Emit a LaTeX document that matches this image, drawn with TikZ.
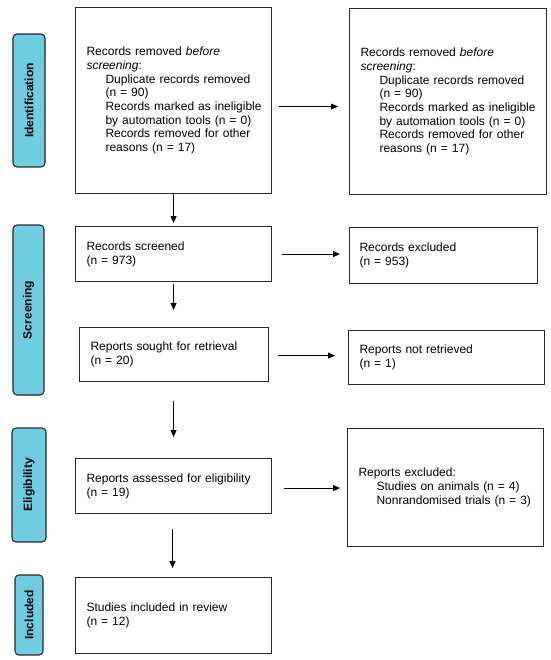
\documentclass[tikz,border=0pt]{standalone}
\usepackage{fontspec}
\setmainfont{Liberation Sans}
\usetikzlibrary{arrows.meta,calc}
\definecolor{phase}{RGB}{110,205,224}
\definecolor{edge}{RGB}{40,40,40}
\begin{document}
\begin{tikzpicture}[x=1pt,y=-1pt,
  box/.style={draw=edge,line width=1.1pt,inner xsep=11pt,inner ysep=0pt,align=left,anchor=north west,
    font=\fontsize{12}{13.7}\selectfont},
  phasebox/.style={draw=edge,line width=1.1pt,fill=phase,rounded corners=4pt,rotate=90,inner sep=0pt,
    font=\fontsize{12}{13}\selectfont\bfseries},
  arr/.style={draw=black,line width=0.8pt,-{Triangle[length=7pt,width=6pt]}}]
\useasboundingbox (0,0) rectangle (550,660);
\newcommand{\ind}[1]{\mbox{\hspace*{19pt}#1}}
% phase labels
\node[phasebox,minimum width=133pt,minimum height=32pt] (L1) at (29,100.5) {Identification};
\node[phasebox,minimum width=170pt,minimum height=31pt] (L2) at (28.5,310) {Screening};
\node[phasebox,minimum width=114pt,minimum height=34pt] (L3) at (29,485) {Eligibility};
\node[phasebox,minimum width=80pt,minimum height=28pt] (L4) at (29,615) {Included};
% boxes
\node[box,text width=174pt,minimum height=186pt] (A) at (75,7) {Records removed \textit{before}\\\textit{screening}:\\\ind{Duplicate records removed}\\\ind{(n = 90)}\\\ind{Records marked as ineligible}\\\ind{by automation tools (n = 0)}\\\ind{Records removed for other}\\\ind{reasons (n = 17)}};
\node[box,text width=175pt,minimum height=186pt] (B) at (349,8) {Records removed \textit{before}\\\textit{screening}:\\\ind{Duplicate records removed}\\\ind{(n = 90)}\\\ind{Records marked as ineligible}\\\ind{by automation tools (n = 0)}\\\ind{Records removed for other}\\\ind{reasons (n = 17)}};
\node[box,minimum height=55pt,text width=174pt] (C) at (75,226) {Records screened\\(n = 973)};
\node[box,minimum height=56pt,inner xsep=10pt,text width=168pt] (D) at (349,227) {Records excluded\\(n = 953)};
\node[box,text width=167pt,minimum height=54pt] (E) at (79,327) {Reports sought for retrieval\\(n = 20)};
\node[box,text width=174pt,minimum height=54pt] (F) at (348,330) {Reports not retrieved\\(n = 1)};
\node[box,text width=174pt,minimum height=55pt] (G) at (75,458) {Reports assessed for eligibility\\(n = 19)};
\node[box,text width=174pt,minimum height=118pt] (H) at (347,428) {Reports excluded:\\\mbox{\hspace*{18pt}Studies on animals (n = 4)}\\\mbox{\hspace*{18pt}Nonrandomised trials (n = 3)}};
\node[box,text width=174pt,minimum height=76pt] (I) at (75,577) {Studies included in review\\(n = 12)};
% connectors
\draw[arr,shorten <=7pt,shorten >=11pt] ([yshift=-6pt]A.east) -- ([yshift=-6pt]A.east -| B.west);
\draw[arr,shorten >=3pt] (A.south) -- (A.south |- C.north);
\draw[arr,shorten <=10pt,shorten >=9pt] (C.east) -- (C.east -| D.west);
\draw[arr,shorten <=2pt,shorten >=17pt] (C.south) -- (C.south |- E.north);
\draw[arr,shorten <=9pt,shorten >=13pt] ([yshift=-1pt]E.east) -- ([yshift=-1pt]E.east -| F.west);
\draw[arr,shorten <=19pt,shorten >=21pt] (E.south -| C.south) -- (C.south |- G.north);
\draw[arr,shorten <=12pt,shorten >=7pt] ([yshift=-2pt]G.east) -- ([yshift=-2pt]G.east -| H.west);
\draw[arr,shorten <=15pt,shorten >=9pt] ([xshift=-1pt]G.south) -- ([xshift=-1pt]G.south |- I.north);
\end{tikzpicture}
\end{document}
